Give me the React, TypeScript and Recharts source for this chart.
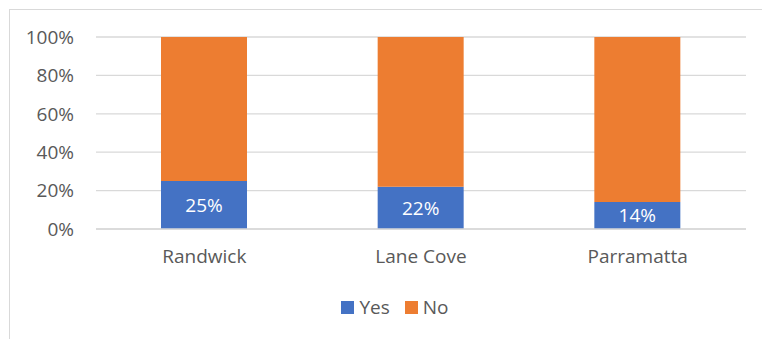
import { Bar, BarChart, CartesianGrid, LabelList, Legend, XAxis, YAxis } from "recharts";

const categories = ["Randwick", "Lane Cove", "Parramatta"];
const yesValues = [25, 22, 14];
const noValues = [75, 78, 86];
const yTicks = [0, 20, 40, 60, 80, 100];

const BLUE = "#4472C4";
const ORANGE = "#ED7D31";
const TEXT = "#595959";
const GRID = "#D9D9D9";
const FONT = "'Open Sans', sans-serif";

const data = categories.map((name, i) => ({ name, yes: yesValues[i], no: noValues[i] }));

function ChartLegend() {
  const items = [
    { label: "Yes", color: BLUE },
    { label: "No", color: ORANGE },
  ];
  return (
    <div
      style={{
        height: 20,
        display: "flex",
        alignItems: "center",
        justifyContent: "center",
        paddingLeft: 28,
        fontFamily: FONT,
        fontSize: 19,
        color: TEXT,
      }}
    >
      {items.map((it, i) => (
        <div key={it.label} style={{ display: "flex", alignItems: "center", marginLeft: i ? 15 : 0 }}>
          <span style={{ width: 13, height: 13, background: it.color, display: "inline-block", marginRight: 5 }} />
          <span style={{ lineHeight: "20px" }}>{it.label}</span>
        </div>
      ))}
    </div>
  );
}

export default function App() {
  return (
    <div style={{ position: "absolute", left: 0, top: 0, width: 762, height: 339, overflow: "hidden", background: "#fff" }}>
      <div style={{ position: "absolute", left: 9, top: 9, width: 800, height: 400, border: `1px solid ${GRID}` }} />
      <BarChart
        width={762}
        height={339}
        data={data}
        margin={{ top: 37, right: 16, left: 26, bottom: 22 }}
        barSize={86}
        style={{ position: "absolute", left: 0, top: 0 }}
      >
        <CartesianGrid vertical={false} stroke={GRID} strokeWidth={1.3} />
        <XAxis
          dataKey="name"
          height={68}
          tickLine={false}
          tickSize={0}
          tickMargin={21}
          axisLine={{ stroke: GRID, strokeWidth: 1.3 }}
          tick={{ fill: TEXT, fontSize: 19, fontFamily: FONT }}
        />
        <YAxis
          width={70}
          domain={[0, 100]}
          ticks={yTicks}
          tickFormatter={(v) => `${v}%`}
          axisLine={false}
          tickLine={false}
          tickSize={0}
          tickMargin={22}
          tick={{ fill: TEXT, fontSize: 19, fontFamily: FONT }}
        />
        <Legend
          verticalAlign="bottom"
          content={() => <ChartLegend />}
          wrapperStyle={{ left: 0, width: 762 }}
        />
        <Bar dataKey="yes" name="Yes" stackId="a" fill={BLUE} isAnimationActive={false}>
          <LabelList
            dataKey="yes"
            position="center"
            formatter={(v: number) => `${v}%`}
            fill="#FFFFFF"
            style={{ fontSize: 19, fontFamily: FONT }}
          />
        </Bar>
        <Bar dataKey="no" name="No" stackId="a" fill={ORANGE} isAnimationActive={false} />
      </BarChart>
    </div>
  );
}
